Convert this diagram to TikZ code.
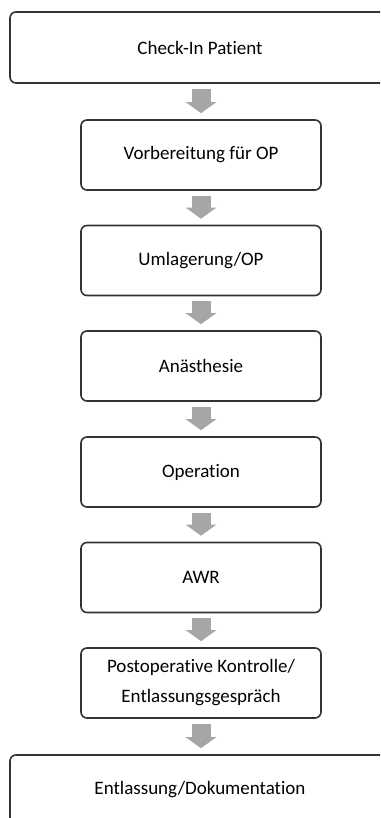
\documentclass[tikz,border=0pt]{standalone}
\usepackage{fontspec}
\setmainfont{Carlito}[Ligatures={NoCommon}]
\usetikzlibrary{arrows.meta}
\definecolor{boxline}{HTML}{333333}
\definecolor{arrowgray}{HTML}{A6A6A6}
\tikzset{
  stepbox/.style={draw=boxline, line width=1.6pt, rounded corners=6pt, fill=white,
    minimum width=240pt, minimum height=70pt, align=center, inner sep=0pt,
    font=\fontsize{19}{30}\selectfont, text=black},
  widebox/.style={stepbox, minimum width=380pt},
  garrow/.style={draw=arrowgray, line width=19pt, -{Triangle[width=30pt,length=11pt]}}
}
\begin{document}
\begin{tikzpicture}[x=1pt,y=-1pt]
\useasboundingbox (0,0) rectangle (380,818);
\clip (0,0) rectangle (380,818);
\node[widebox, minimum height=71pt] (n1) at (200,47.5) {Check-In Patient};
\node[stepbox] (n2) at (201,155) {Vorbereitung für OP};
\node[stepbox] (n3) at (201,260.5) {Umlagerung/OP};
\node[stepbox] (n4) at (201,366) {Anästhesie};
\node[stepbox] (n5) at (201,472) {Operation};
\node[stepbox] (n6) at (201,577.5) {AWR};
\node[stepbox] (n7) at (201,683) {Postoperative Kontrolle/\\Entlassungsgespräch};
\node[widebox] (n8) at (200,790) {Entlassung/Dokumentation};
\foreach \a/\b in {n1/n2,n2/n3,n3/n4,n4/n5,n5/n6,n6/n7,n7/n8}
  \draw[garrow] ([yshift=-5pt]\a.south -| 201,0) -- ([yshift=6pt]\b.north -| 201,0);
\end{tikzpicture}
\end{document}
